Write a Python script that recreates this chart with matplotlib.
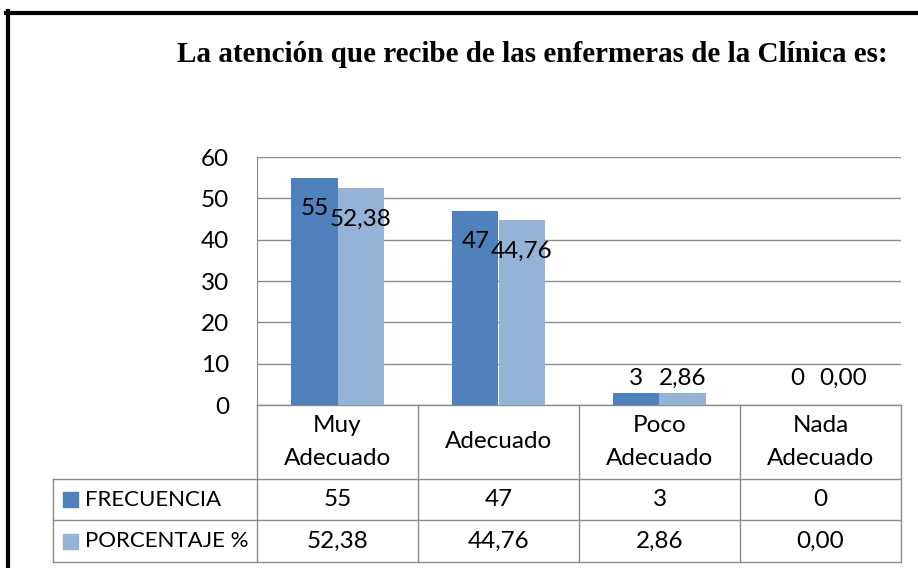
import matplotlib.pyplot as plt
from matplotlib.patches import Rectangle
from matplotlib.lines import Line2D
from matplotlib.transforms import blended_transform_factory
import numpy as np

categories = ['Muy\nAdecuado', 'Adecuado', 'Poco\nAdecuado', 'Nada\nAdecuado']
frecuencia = [55, 47, 3, 0]
porcentaje = [52.38, 44.76, 2.86, 0.00]
series_names = ['FRECUENCIA', 'PORCENTAJE %']
title = 'La atención que recibe de las enfermeras de la Clínica es:'

dark = '#4F81BD'
light = '#95B3D7'
grid_c = '#8C8C8C'
font = 'Lato'
fs = 17.5

W, H = 918, 568
fig = plt.figure(figsize=(W / 100, H / 100), dpi=100)

# plot area in pixels: x 257-901, y 157-405
ax = fig.add_axes([257 / W, 1 - 405 / H, 644 / W, 248 / H])

n = len(categories)
x = np.arange(n)
bw = 0.286
ax.bar(x - bw / 2, frecuencia, bw, color=dark, zorder=3)
ax.bar(x + bw / 2, porcentaje, bw, color=light, zorder=3)

ax.set_xlim(-0.5, n - 0.5)
ax.set_ylim(0, 60)
ax.set_yticks(range(0, 61, 10))
ax.set_xticks([])
ax.yaxis.grid(True, color=grid_c, linewidth=1)
ax.set_axisbelow(True)
for s in ['top', 'right', 'bottom']:
    ax.spines[s].set_visible(False)
ax.spines['left'].set_color(grid_c)
ax.tick_params(axis='y', length=0, pad=20, labelsize=fs)
for lbl in ax.get_yticklabels():
    lbl.set_fontfamily(font)


def fmt(v):
    return f'{v:.2f}'.replace('.', ',')


# data labels
for i in range(n):
    for val, txt, dx in [(frecuencia[i], str(frecuencia[i]), -bw / 2),
                         (porcentaje[i], fmt(porcentaje[i]), bw / 2)]:
        y = max(val - 7.5, 6.5)
        ax.text(i + dx, y, txt, ha='center', va='center',
                fontsize=fs, family=font, zorder=4)

# data table drawn under the axes: x in data units, y in axes units
tr = blended_transform_factory(ax.transData, ax.transAxes)
px = 1 / 161            # one pixel in data x units (category = 161 px)
py = 1 / 248            # one pixel in axes y units
leg_left = -0.5 - 204 * px
y0, y1, y2, y3 = 0, -74 * py, -115 * py, -157 * py
line_kw = dict(color=grid_c, linewidth=1, transform=tr, clip_on=False)

ax.plot([-0.5, n - 0.5], [y0, y0], **line_kw)
for yy in (y1, y2, y3):
    ax.plot([leg_left, n - 0.5], [yy, yy], **line_kw)
for k in range(n + 1):
    ax.plot([k - 0.5, k - 0.5], [y0, y3], **line_kw)
ax.plot([leg_left, leg_left], [y1, y3], **line_kw)

txt_kw = dict(fontsize=fs, family=font, transform=tr, va='center')
for i, cat in enumerate(categories):
    ax.text(i, (y0 + y1) / 2, cat, ha='center', linespacing=1.65, **txt_kw)
    ax.text(i, (y1 + y2) / 2, str(frecuencia[i]), ha='center', **txt_kw)
    ax.text(i, (y2 + y3) / 2, fmt(porcentaje[i]), ha='center', **txt_kw)

for r, (name, col) in enumerate(zip(series_names, [dark, light])):
    yc = [(y1 + y2) / 2, (y2 + y3) / 2][r]
    ax.add_patch(Rectangle((leg_left + 10 * px, yc - 7.5 * py),
                           15 * px, 15 * py, transform=tr,
                           color=col, clip_on=False))
    ax.text(leg_left + 32 * px, yc, name, ha='left', fontsize=16,
            family=font, transform=tr, va='center')

fig.text(532 / W, 1 - 54 / H, title, ha='center', va='center',
         fontsize=21, weight='bold', family='Liberation Serif')

# outer frame
fig.add_artist(Line2D([8 / W, 8 / W], [0, 1 - 11 / H], color='black',
                      linewidth=3, transform=fig.transFigure))
fig.add_artist(Line2D([6 / W, 1], [1 - 12.5 / H, 1 - 12.5 / H],
                      color='black', linewidth=3, transform=fig.transFigure))

fig.savefig('out.png', dpi=100)
